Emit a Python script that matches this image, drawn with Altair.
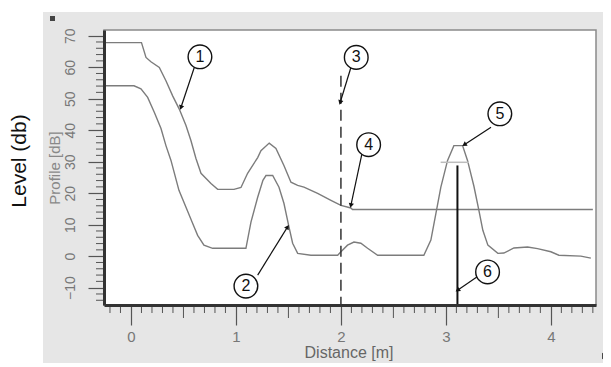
import math
import altair as alt
import pandas as pd

# ---------------- data ----------------
# curve 1: threshold (TVT) curve
tvt_dist = [-0.257, 0.10, 0.143, 0.19, 0.27, 0.333, 0.397, 0.46, 0.524, 0.571, 0.619,
            0.667, 0.762, 0.826, 0.981, 1.048, 1.111, 1.207, 1.238, 1.317, 1.381,
            1.457, 1.524, 1.588, 1.648, 1.778, 1.905, 2.0, 2.095, 2.11, 4.40]
tvt_db = [67.8, 67.8, 63.1, 61.7, 59.9, 55.7, 50.9, 46.7, 41.5, 36.7, 31.0,
          26.3, 23.1, 21.2, 21.2, 21.8, 26.3, 31.3, 33.5, 35.9, 34.2,
          28.8, 23.5, 22.5, 21.9, 19.9, 17.7, 16.1, 15.3, 14.8, 14.8]

# curve 2: echo profile
echo_dist = [-0.257, 0.029, 0.095, 0.159, 0.222, 0.286, 0.333, 0.381, 0.457, 0.524,
             0.588, 0.635, 0.695, 0.778, 1.095, 1.143, 1.207, 1.257, 1.286, 1.35,
             1.41, 1.457, 1.505, 1.54, 1.588, 1.714, 1.969, 2.0, 2.063, 2.124,
             2.19, 2.254, 2.35, 2.79, 2.857, 2.905, 2.952, 3.016, 3.076, 3.159,
             3.206, 3.267, 3.314, 3.352, 3.4, 3.495, 3.552, 3.648, 3.778, 3.873,
             4.0, 4.076, 4.286, 4.381]
echo_db = [54.1, 54.1, 53.1, 50.4, 45.7, 40.5, 35.1, 30.4, 20.9, 15.5,
           10.4, 6.6, 3.5, 2.5, 2.5, 10.8, 18.7, 24.1, 25.6, 25.6,
           21.9, 16.8, 9.3, 4.1, 0.9, 0.3, 0.3, 1.4, 3.5, 4.5,
           4.1, 2.5, 0.3, 0.3, 5.1, 13.6, 21.9, 30.4, 35.1, 35.1,
           30.4, 22.2, 14.6, 8.2, 3.5, 0.9, 1.0, 2.6, 2.9, 2.4,
           1.4, 0.3, 0.0, -0.6]

# near blanking (dashed), echo marker line, echo marker bar
blank_dist = 2.0
blank_top = 57.3
echo_line_dist = 3.11
echo_line_top = 28.8
marker_from, marker_to, marker_db = 2.95, 3.22, 29.8

# callouts: label, circle centre, arrow start, arrow tip
call_label = ["1", "2", "3", "4", "5", "6"]
call_cx = [0.657, 1.095, 2.146, 2.264, 3.514, 3.397]
call_cy = [63.3, -9.5, 63.1, 35.4, 45.2, -5.0]
arr_x0 = [0.603, 1.207, 2.095, 2.200, 3.430, 3.295]
arr_y0 = [59.9, -6.0, 59.9, 32.5, 40.9, -6.6]
arr_x1 = [0.476, 1.492, 1.993, 2.095, 3.175, 3.111]
arr_y1 = [47.2, 9.3, 48.8, 16.1, 35.4, -10.8]

x_labels = [0, 1, 2, 3, 4]
y_labels = [-10, 0, 10, 20, 30, 40, 50, 60, 70]

X_DOM = [-0.257, 4.43]
Y_DOM = [-15.5, 71.8]
W, H = 492, 275

FONT = "Liberation Sans"
xs = alt.Scale(domain=X_DOM, nice=False, zero=False)
ys = alt.Scale(domain=Y_DOM, nice=False, zero=False)
xaxis = alt.Axis(
    values=x_labels, tickSize=20, tickColor="#555", tickWidth=1.2,
    labelColor="#777", labelFontSize=15, labelPadding=4, labelFont=FONT,
    domainColor="#333", domainWidth=3, grid=False, title=None, zindex=1)
yaxis = alt.Axis(
    values=y_labels, tickSize=16, tickColor="#555", tickWidth=1.2,
    labelAngle=270, labelAlign="center", labelBaseline="middle",
    labelColor="#777", labelFontSize=14, labelPadding=18, labelFont=FONT,
    domainColor="#333", domainWidth=3, grid=False, title=None, zindex=1)


def X(field):
    return alt.X(field, scale=xs, axis=xaxis)


def Y(field):
    return alt.Y(field, scale=ys, axis=yaxis)


one = pd.DataFrame({"a": [0]})

# ---------------- background ----------------
bg = alt.Chart(one).mark_rect(color="#e6e6e6").encode(
    x=alt.value(-61), x2=alt.value(W + 20), y=alt.value(-18), y2=alt.value(H + 75))
plot_bg = alt.Chart(one).mark_rect(color="white").encode(
    x=alt.value(0), x2=alt.value(W), y=alt.value(0), y2=alt.value(H))
border = alt.Chart(one).mark_rect(fill=None, stroke="#8a8a8a", strokeWidth=1.5).encode(
    x=alt.value(0), x2=alt.value(W), y=alt.value(0), y2=alt.value(H))

# ---------------- curves ----------------
curves = pd.DataFrame({
    "dist": tvt_dist + echo_dist,
    "db": tvt_db + echo_db,
    "series": ["tvt"] * len(tvt_dist) + ["echo"] * len(echo_dist),
})

lines = alt.Chart(curves).mark_line(color="#7c7c7c", strokeWidth=1.4).encode(
    x=X("dist:Q"), y=Y("db:Q"), detail="series:N")

# minor ruler ticks
y_minor = pd.DataFrame({"v": [v for v in range(-14, 72, 2) if v % 10 != 0]})
y_minor_ticks = alt.Chart(y_minor).mark_rule(color="#555", strokeWidth=1).encode(
    y=Y("v:Q"), x=alt.value(-8), x2=alt.value(-1))

x_vals = [round(-0.2 + 0.1 * i, 1) for i in range(47)]
x_minor = pd.DataFrame({"v": [v for v in x_vals if abs(v - round(v)) > 1e-6]})
x_minor["len"] = [10 if abs(v * 2 - round(v * 2)) < 1e-6 else 5 for v in x_minor["v"]]
x_small = alt.Chart(x_minor[x_minor["len"] == 5]).mark_rule(color="#555").encode(
    x=X("v:Q"), y=alt.value(H + 2), y2=alt.value(H + 8))
x_half = alt.Chart(x_minor[x_minor["len"] == 10]).mark_rule(color="#555").encode(
    x=X("v:Q"), y=alt.value(H + 2), y2=alt.value(H + 13))

# ---------------- reference lines ----------------
blank = alt.Chart(pd.DataFrame({"x": [blank_dist], "y": [blank_top], "y2": [Y_DOM[0]]})).mark_rule(
    color="#333", strokeWidth=1.5, strokeDash=[11, 6]).encode(
    x=X("x:Q"), y=Y("y:Q"), y2="y2:Q")

echo_line = alt.Chart(pd.DataFrame({"x": [echo_line_dist], "y": [echo_line_top], "y2": [Y_DOM[0]]})).mark_rule(
    color="#111", strokeWidth=2).encode(
    x=X("x:Q"), y=Y("y:Q"), y2="y2:Q")

marker = alt.Chart(pd.DataFrame({"x": [marker_from], "x2": [marker_to], "y": [marker_db]})).mark_rule(
    color="#bdbdbd", strokeWidth=1.5).encode(
    x=X("x:Q"), x2="x2:Q", y=Y("y:Q"))

# ---------------- callouts ----------------
ppx = W / (X_DOM[1] - X_DOM[0])
ppy = H / (Y_DOM[1] - Y_DOM[0])
angles = [math.degrees(math.atan2((a1 - a0) * ppx, (b1 - b0) * ppy)) % 360
          for a0, b0, a1, b1 in zip(arr_x0, arr_y0, arr_x1, arr_y1)]
calls = pd.DataFrame({
    "label": call_label, "cx": call_cx, "cy": call_cy,
    "x0": arr_x0, "y0": arr_y0, "x1": arr_x1, "y1": arr_y1, "ang": angles,
})

arrows = alt.Chart(calls).mark_rule(color="#111", strokeWidth=1.2).encode(
    x=X("x0:Q"), y=Y("y0:Q"), x2="x1:Q", y2="y1:Q")
heads = alt.Chart(calls).mark_point(shape="triangle-up", filled=True, color="#111", size=28, opacity=1).encode(
    x=X("x1:Q"), y=Y("y1:Q"), angle=alt.Angle("ang:Q", scale=None))
circles = alt.Chart(calls).mark_point(shape="circle", size=560, fill="white", stroke="#111",
                                      strokeWidth=1.4, opacity=1, fillOpacity=1).encode(
    x=X("cx:Q"), y=Y("cy:Q"))
nums = alt.Chart(calls).mark_text(fontSize=16, font=FONT, color="#111", baseline="middle").encode(
    x=X("cx:Q"), y=Y("cy:Q"), text="label:N")

# ---------------- titles ----------------
t_level = alt.Chart(pd.DataFrame({"t": ["Level (db)"]})).mark_text(
    angle=270, fontSize=21, font=FONT, color="#111", align="center", baseline="middle").encode(
    text="t:N", x=alt.value(-84), y=alt.value(131))
t_profile = alt.Chart(pd.DataFrame({"t": ["Profile [dB]"]})).mark_text(
    angle=270, fontSize=15, font=FONT, color="#888", align="center", baseline="middle").encode(
    text="t:N", x=alt.value(-49), y=alt.value(138))
t_dist = alt.Chart(pd.DataFrame({"t": ["Distance [m]"]})).mark_text(
    fontSize=16, font=FONT, color="#666", align="center", baseline="middle").encode(
    text="t:N", x=alt.value(245), y=alt.value(323))

icon = alt.Chart(one).mark_rect(color="#444").encode(
    x=alt.value(-54), x2=alt.value(-49), y=alt.value(-14), y2=alt.value(-9))
end_icon = alt.Chart(one).mark_point(shape="triangle-right", filled=True, color="#111", size=40, opacity=1).encode(
    x=alt.value(W + 9), y=alt.value(H + 51))

chart = alt.layer(
    bg, plot_bg, lines, y_minor_ticks, x_small, x_half, blank, marker, echo_line,
    arrows, heads, circles, nums, border, t_level, t_profile, t_dist, icon, end_icon,
).properties(
    width=W, height=H,
    padding={"left": 96, "top": 22, "right": 7, "bottom": 58},
    autosize=alt.AutoSizeParams(type="none"),
).configure_view(stroke=None).configure(font=FONT)

chart.save("out.html", embed_options={"renderer": "svg", "actions": False})
